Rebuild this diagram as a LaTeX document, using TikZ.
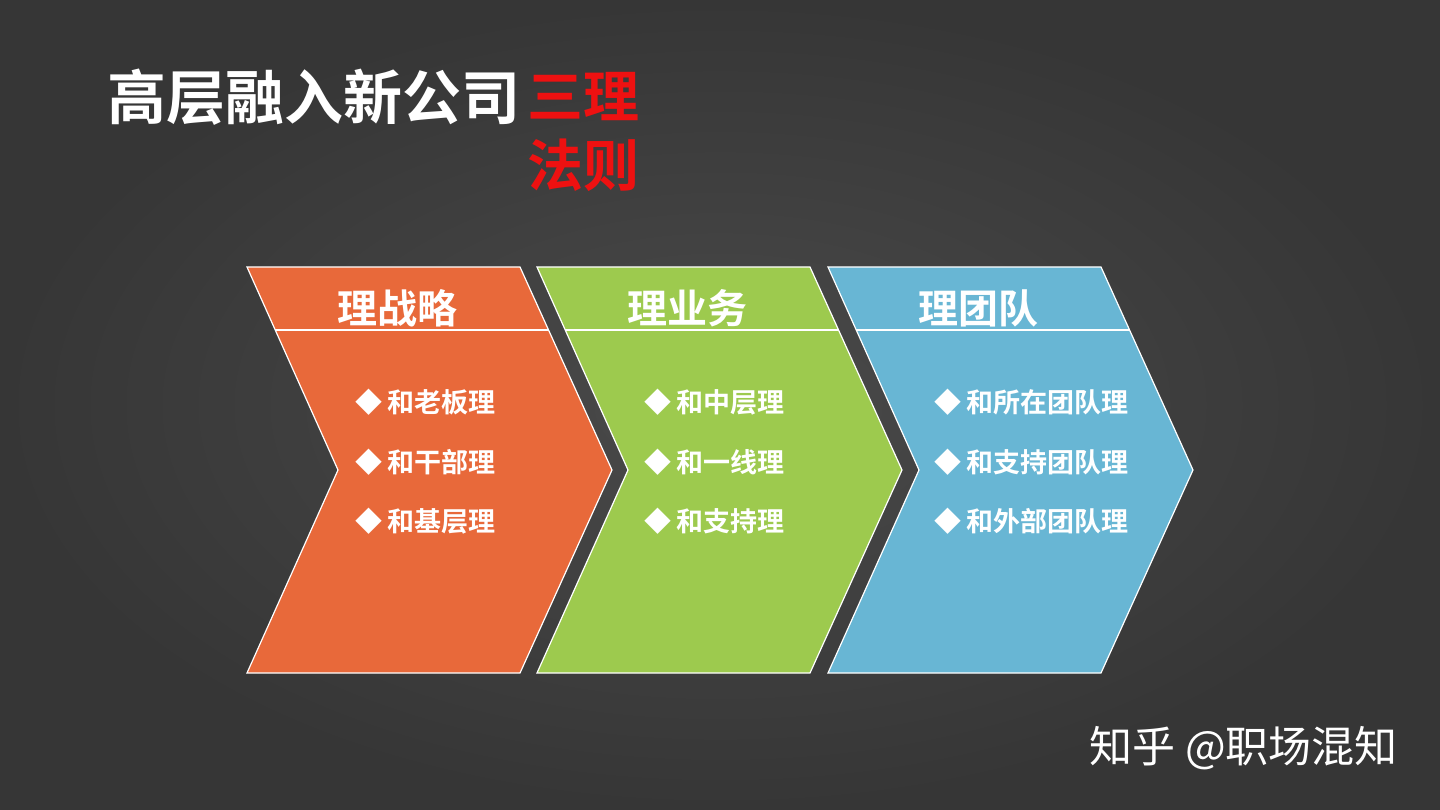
\documentclass[tikz,border=0pt]{standalone}
\usepackage{fontspec}
\usepackage{tikz}
\newfontfamily\cjk{Noto Sans CJK SC}[BoldFont={Noto Sans CJK SC Bold}]
\definecolor{board}{HTML}{363636}
\definecolor{boardlight}{HTML}{4A4A4A}
\definecolor{chevA}{HTML}{E8693A}
\definecolor{chevB}{HTML}{9DCA4E}
\definecolor{chevC}{HTML}{68B6D4}
\definecolor{titlered}{HTML}{EE1111}
\tikzset{
  chev/.style={draw=white,line width=1.2pt,line join=miter},
  head/.style={text=white,font=\cjk\bfseries\fontsize{40}{40}\selectfont},
  item/.style={anchor=west,text=white,font=\cjk\bfseries\fontsize{27}{27}\selectfont},
  title/.style={anchor=west,font=\cjk\bfseries\fontsize{56}{56}\selectfont}
}

\begin{document}
\begin{tikzpicture}[x=1pt,y=-1pt]
\useasboundingbox (0,0) rectangle (1440,810);
\fill[board] (0,0) rectangle (1440,810);
\shade[inner color=boardlight,outer color=board] (0,0) rectangle (1440,810);

% title
\node[title,text=white,font=\cjk\bfseries\fontsize{59}{59}\selectfont] (T) at (104,97) {高层融入新公司};
\node[title,text=titlered] (R) at (524,97) {三理};
\node[title,text=titlered] (S) at (524,165) {法则};

% chevrons
\filldraw[chev,fill=chevA] (247,267) -- (520,267) -- (612,470) -- (520,673) -- (247,673) -- (338,470) -- cycle;
\filldraw[chev,fill=chevB] (537,267) -- (810,267) -- (902,470) -- (810,673) -- (537,673) -- (628,470) -- cycle;
\filldraw[chev,fill=chevC] (828,267) -- (1101,267) -- (1193,470) -- (1101,673) -- (828,673) -- (919,470) -- cycle;
\draw[white,line width=1.2pt] (275,330) -- (548,330);
\draw[white,line width=1.2pt] (565,330) -- (838,330);
\draw[white,line width=1.2pt] (856,330) -- (1129,330);

% headers
\node[head] (A) at (397,308) {理战略};
\node[head] (B) at (687,308) {理业务};
\node[head] (C) at (978,308) {理团队};

% items
\node[item] (A1) at (352,402) {◆\hspace{5pt}和老板理};
\node[item] (A2) at (352,462) {◆\hspace{5pt}和干部理};
\node[item] (A3) at (352,521) {◆\hspace{5pt}和基层理};
\node[item] (B1) at (641,402) {◆\hspace{5pt}和中层理};
\node[item] (B2) at (641,462) {◆\hspace{5pt}和一线理};
\node[item] (B3) at (641,521) {◆\hspace{5pt}和支持理};
\node[item] (C1) at (931,402) {◆\hspace{5pt}和所在团队理};
\node[item] (C2) at (931,462) {◆\hspace{5pt}和支持团队理};
\node[item] (C3) at (931,521) {◆\hspace{5pt}和外部团队理};

% watermark
\node[anchor=west,text=white,font=\cjk\fontsize{43}{43}\selectfont] (W) at (1086,748) {知乎 @职场混知};
\end{tikzpicture}
\end{document}
